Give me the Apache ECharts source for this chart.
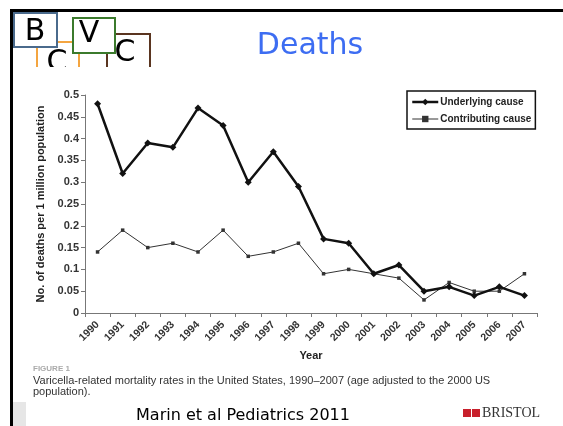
<!DOCTYPE html>
<html>
<head>
<meta charset="utf-8">
<script src="https://cdn.jsdelivr.net/npm/echarts@6/dist/echarts.min.js"></script>
<style>
  html, body { margin: 0; padding: 0; background: #fff; }
  #chart { width: 563px; height: 426px; }
</style>
</head>
<body>
<div id="chart"></div>
<script>
// years on the x axis
var years = ['1990', '1991', '1992', '1993', '1994', '1995', '1996', '1997', '1998',
  '1999', '2000', '2001', '2002', '2003', '2004', '2005', '2006', '2007']
// deaths per 1 million population
var underlying = [0.48, 0.32, 0.39, 0.38, 0.47, 0.43, 0.30, 0.37, 0.29,
  0.17, 0.16, 0.09, 0.11, 0.05, 0.06, 0.04, 0.06, 0.04]
var contributing = [0.14, 0.19, 0.15, 0.16, 0.14, 0.19, 0.13, 0.14, 0.16,
  0.09, 0.10, 0.09, 0.08, 0.03, 0.07, 0.05, 0.05, 0.09]
var seriesNames = ['Underlying cause', 'Contributing cause']

var chart = echarts.init(document.getElementById('chart'))
var font = 'Liberation Sans, Arial, sans-serif'
var logoFont = '30px "DejaVu Sans"'
chart.setOption({
  backgroundColor: '#fff',
  animation: false,
  textStyle: { fontFamily: font },
  legend: {
    left: 407,
    top: 91,
    width: 129,
    orient: 'vertical',
    itemGap: 7,
    itemWidth: 26,
    itemHeight: 8,
    padding: [6, 4, 5, 4],
    borderColor: '#111',
    borderWidth: 1.5,
    textStyle: { fontSize: 10, fontWeight: 'bold', color: '#222', padding: [0, 0, 0, -3] },
    data: [
      { name: seriesNames[0], lineStyle: { width: 2.5 } },
      { name: seriesNames[1], lineStyle: { width: 1 } }
    ]
  },
  grid: { left: 85, right: 26, top: 95, bottom: 113 },
  xAxis: {
    type: 'category',
    data: years,
    name: 'Year',
    nameLocation: 'middle',
    nameGap: 37,
    nameTextStyle: { fontSize: 11, fontWeight: 'bold', color: '#222' },
    axisLine: { lineStyle: { color: '#777', width: 1 } },
    axisTick: { show: true, length: 4, lineStyle: { color: '#777' } },
    axisLabel: { rotate: 45, fontSize: 10.5, fontWeight: 'bold', color: '#333', margin: 10 }
  },
  yAxis: {
    type: 'value',
    min: 0,
    max: 0.5,
    interval: 0.05,
    name: 'No. of deaths per 1 million population',
    nameLocation: 'middle',
    nameGap: 36,
    nameTextStyle: { fontSize: 11, fontWeight: 'bold', color: '#222' },
    splitLine: { show: false },
    axisLine: { show: true, lineStyle: { color: '#777', width: 1 } },
    axisTick: { show: true, length: 4, lineStyle: { color: '#777' } },
    axisLabel: {
      fontSize: 11, fontWeight: 'bold', color: '#333', margin: 6,
      formatter: function(v) { return String(+v.toFixed(2)) }
    }
  },
  series: [
    {
      name: seriesNames[0],
      type: 'line',
      data: underlying,
      color: '#111',
      lineStyle: { width: 2.5, color: '#111' },
      symbol: 'diamond',
      symbolSize: 7,
      showAllSymbol: true,
      z: 3
    },
    {
      name: seriesNames[1],
      type: 'line',
      data: contributing,
      color: '#333',
      lineStyle: { width: 1, color: '#333' },
      symbol: 'rect',
      symbolSize: 3.5,
      showAllSymbol: true,
      z: 2
    }
  ],
  graphic: [
    // slide border
    { type: 'rect', shape: { x: 10, y: 9, width: 560, height: 3 }, style: { fill: '#000' }, z: 20 },
    { type: 'rect', shape: { x: 10, y: 9, width: 3, height: 420 }, style: { fill: '#000' }, z: 20 },
    // BVC logo
    { type: 'rect', z: 1, shape: { x: 37, y: 42, width: 42, height: 40 }, style: { fill: '#fff', stroke: '#f4a540', lineWidth: 2 } },
    { type: 'text', z: 1, style: { x: 57, y: 63, text: 'C', font: logoFont, fill: '#000', align: 'center', verticalAlign: 'middle' } },
    { type: 'rect', z: 2, shape: { x: 107, y: 34, width: 43, height: 40 }, style: { fill: '#fff', stroke: '#5a3520', lineWidth: 2 } },
    { type: 'text', z: 2, style: { x: 125, y: 53, text: 'C', font: logoFont, fill: '#000', align: 'center', verticalAlign: 'middle' } },
    { type: 'rect', z: 3, shape: { x: 14, y: 13, width: 43, height: 34 }, style: { fill: '#fff', stroke: '#4a6a8c', lineWidth: 2 } },
    { type: 'text', z: 3, style: { x: 35, y: 32, text: 'B', font: logoFont, fill: '#000', align: 'center', verticalAlign: 'middle' } },
    { type: 'rect', z: 4, shape: { x: 73, y: 18, width: 42, height: 35 }, style: { fill: '#fff', stroke: '#3b7a2c', lineWidth: 2 } },
    { type: 'text', z: 4, style: { x: 89, y: 34, text: 'V', font: logoFont, fill: '#000', align: 'center', verticalAlign: 'middle' } },
    // figure panel cuts the logo
    { type: 'rect', z: 10, shape: { x: 14, y: 67, width: 160, height: 20 }, style: { fill: '#fff' } },
    // title
    { type: 'text', style: { x: 310, y: 46, text: 'Deaths', font: '30px "DejaVu Sans"', fill: '#3d6df2', align: 'center', verticalAlign: 'middle' } },
    // caption
    { type: 'text', style: { x: 33, y: 365, text: 'FIGURE 1', font: 'bold 8px "Liberation Sans"', fill: '#aaa' } },
    { type: 'text', style: { x: 33, y: 375, text: 'Varicella-related mortality rates in the United States, 1990\u20132007 (age adjusted to the 2000 US', font: '11px "Liberation Sans"', fill: '#333' } },
    { type: 'text', style: { x: 33, y: 386, text: 'population).', font: '11px "Liberation Sans"', fill: '#333' } },
    { type: 'rect', shape: { x: 13, y: 402, width: 13, height: 24 }, style: { fill: '#e6e6e6' } },
    { type: 'text', style: { x: 243, y: 416, text: 'Marin et al Pediatrics 2011', font: '16px "DejaVu Sans"', fill: '#000', align: 'center', verticalAlign: 'middle' } },
    // Bristol logo
    { type: 'rect', shape: { x: 463, y: 409, width: 8, height: 8 }, style: { fill: '#c8202c' } },
    { type: 'rect', shape: { x: 472, y: 409, width: 8, height: 8 }, style: { fill: '#c8202c' } },
    { type: 'text', style: { x: 482, y: 413, text: 'BRISTOL', font: '14px "Liberation Serif"', fill: '#333', verticalAlign: 'middle' } }
  ]
})
</script>
</body>
</html>
